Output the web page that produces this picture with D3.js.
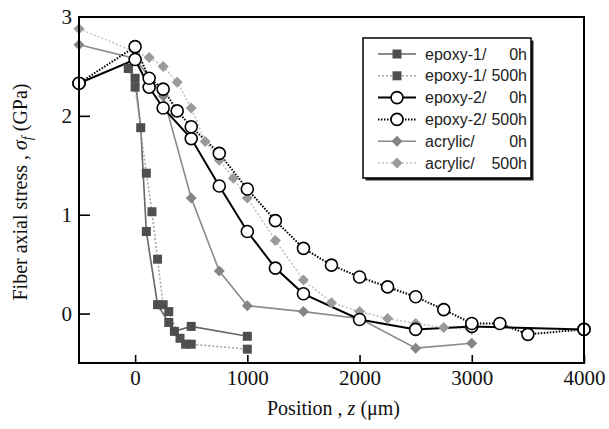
<!DOCTYPE html>
<html><head><meta charset="utf-8">
<script src="https://cdn.jsdelivr.net/npm/d3@7"></script>
<style>body{margin:0;background:#fff}</style>
</head><body>
<svg id="c" width="609" height="429"></svg>
<script>
const xTicks = [0, 1000, 2000, 3000, 4000];
const yTicks = [0, 1, 2, 3];

const e1_0h_z = [-60, 0, 50, 100, 200, 300, 350, 500, 1000];
const e1_0h_s = [2.48, 2.38, 1.88, 0.83, 0.09, -0.09, -0.18, -0.13, -0.23];
const e1_500h_z = [-60, 0, 100, 150, 200, 250, 300, 400, 450, 500, 1000];
const e1_500h_s = [2.48, 2.29, 1.42, 1.03, 0.55, 0.09, 0.02, -0.25, -0.31, -0.31, -0.36];

const e2_0h_z = [-500, 0, 125, 250, 500, 750, 1000, 1250, 1500, 2000, 2500, 3000, 4000];
const e2_0h_s = [2.33, 2.57, 2.29, 2.08, 1.77, 1.29, 0.83, 0.46, 0.20, -0.06, -0.16, -0.13, -0.16];
const e2_500h_z = [-500, 0, 125, 250, 375, 500, 750, 1000, 1250, 1500, 1750, 2000, 2250, 2500, 2750, 3000, 3250, 3500, 4000];
const e2_500h_s = [2.33, 2.70, 2.38, 2.27, 2.05, 1.89, 1.62, 1.26, 0.94, 0.66, 0.49, 0.37, 0.27, 0.17, 0.04, -0.10, -0.10, -0.21, -0.16];

const ac_0h_z = [-500, 0, 250, 500, 750, 1000, 1500, 2000, 2500, 3000];
const ac_0h_s = [2.72, 2.58, 2.20, 1.17, 0.43, 0.08, 0.02, -0.05, -0.35, -0.30];
const ac_500h_z = [-500, 0, 125, 250, 375, 500, 625, 750, 875, 1000, 1250, 1500, 1750, 2000, 2250, 2500, 2750, 3000];
const ac_500h_s = [2.88, 2.65, 2.59, 2.50, 2.34, 2.08, 1.74, 1.55, 1.37, 1.17, 0.74, 0.34, 0.11, 0.02, -0.05, -0.10, -0.14, -0.16];

const legendNames = ["epoxy-1/", "epoxy-1/", "epoxy-2/", "epoxy-2/", "acrylic/", "acrylic/"];
const legendTimes = ["0h", "500h", "0h", "500h", "0h", "500h"];

const L = 79, R = 584, T = 17, B = 363;
const x = d3.scaleLinear().domain([-500, 4000]).range([L, R]);
const y = d3.scaleLinear().domain([-0.5, 3]).range([B, T]);
const svg = d3.select("#c");

const series = [
  {row: 4, z: ac_0h_z, s: ac_0h_s, line: "#8a8a8a", dash: null, w: 1.6, m: "diamond", fill: "#858585", stroke: "#858585"},
  {row: 5, z: ac_500h_z, s: ac_500h_s, line: "#c4c4c4", dash: "2,2", w: 1.6, m: "diamond", fill: "#9a9a9a", stroke: "#9a9a9a"},
  {row: 0, z: e1_0h_z, s: e1_0h_s, line: "#666", dash: null, w: 1.6, m: "square", fill: "#4d4d4d", stroke: "#4d4d4d"},
  {row: 1, z: e1_500h_z, s: e1_500h_s, line: "#a8a8a8", dash: "2,2", w: 1.6, m: "square", fill: "#505050", stroke: "#505050"},
  {row: 2, z: e2_0h_z, s: e2_0h_s, line: "#000", dash: null, w: 2, m: "circle", fill: "#fff", stroke: "#000"},
  {row: 3, z: e2_500h_z, s: e2_500h_s, line: "#000", dash: "1.5,1.5", w: 2, m: "circle", fill: "#fff", stroke: "#000"}
];

function marker(g, type, cx, cy, sd) {
  if (type === "circle") {
    g.append("circle").attr("cx", cx).attr("cy", cy).attr("r", 6)
      .attr("fill", sd.fill).attr("stroke", sd.stroke).attr("stroke-width", 1.6);
  } else if (type === "square") {
    g.append("rect").attr("x", cx - 4.5).attr("y", cy - 4.5).attr("width", 9).attr("height", 9)
      .attr("fill", sd.fill);
  } else {
    const r = 5.5;
    g.append("path").attr("d", `M${cx},${cy - r}L${cx + r},${cy}L${cx},${cy + r}L${cx - r},${cy}Z`)
      .attr("fill", sd.fill);
  }
}

const plot = svg.append("g");
const lineGen = d3.line().x(d => x(d[0])).y(d => y(d[1]));
series.forEach(sd => {
  const pts = sd.z.map((z, i) => [z, sd.s[i]]);
  plot.append("path").attr("d", lineGen(pts)).attr("fill", "none")
    .attr("stroke", sd.line).attr("stroke-width", sd.w)
    .attr("stroke-dasharray", sd.dash);
});
series.forEach(sd => {
  sd.z.forEach((z, i) => marker(plot, sd.m, x(z), y(sd.s[i]), sd));
});

// axes
const xa = svg.append("g").attr("transform", `translate(0,${B})`)
  .call(d3.axisBottom(x).tickValues(xTicks).tickSizeInner(-8).tickSizeOuter(0).tickPadding(7).tickFormat(d3.format("d")));
const ya = svg.append("g").attr("transform", `translate(${L},0)`)
  .call(d3.axisLeft(y).tickValues(yTicks).tickSizeInner(-11).tickSizeOuter(0).tickPadding(7).tickFormat(d3.format("d")));
[xa, ya].forEach(a => {
  a.select(".domain").remove();
  a.selectAll("line").attr("stroke", "#000").attr("stroke-width", 1.6);
  a.selectAll("text").attr("font-family", "'Liberation Serif', serif").attr("font-size", 21).attr("fill", "#111");
});
ya.selectAll(".tick").filter(d => d === 3).select("line").remove();

svg.append("rect").attr("x", L).attr("y", T).attr("width", R - L).attr("height", B - T)
  .attr("fill", "none").attr("stroke", "#000").attr("stroke-width", 2);

// axis titles
const xt = svg.append("text").attr("x", (L + R) / 2 + 2).attr("y", 415).attr("text-anchor", "middle")
  .attr("font-family", "'Liberation Serif', serif").attr("font-size", 20).attr("fill", "#111");
xt.append("tspan").text("Position , ");
xt.append("tspan").attr("font-style", "italic").text("z");
xt.append("tspan").text(" (μm)");

const yt = svg.append("text").attr("transform", "translate(27,192) rotate(-90)").attr("text-anchor", "middle")
  .attr("font-family", "'Liberation Serif', serif").attr("font-size", 20).attr("fill", "#111");
yt.append("tspan").text("Fiber axial stress , ");
yt.append("tspan").attr("font-style", "italic").text("σ");
yt.append("tspan").attr("font-style", "italic").attr("font-size", 14).attr("dy", 5).text("f");
yt.append("tspan").attr("dy", -5).text(" (GPa)");

// legend
const lg = svg.append("g");
const lx = 363, ly = 38, lw = 168, lh = 140;
lg.append("rect").attr("x", lx + 2.5).attr("y", ly + 2.5).attr("width", lw).attr("height", lh).attr("fill", "#222");
lg.append("rect").attr("x", lx).attr("y", ly).attr("width", lw).attr("height", lh)
  .attr("fill", "#fff").attr("stroke", "#000").attr("stroke-width", 1.5);
series.forEach(sd => {
  const row = sd.row;
  const yy = 54 + row * 21.8;
  lg.append("line").attr("x1", 378).attr("x2", 416).attr("y1", yy).attr("y2", yy)
    .attr("stroke", sd.line).attr("stroke-width", sd.w).attr("stroke-dasharray", sd.dash);
  marker(lg, sd.m, 397, yy, sd);
  lg.append("text").attr("x", 425).attr("y", yy + 5.5).attr("font-family", "'Liberation Sans', Arial, sans-serif")
    .attr("font-size", 16).attr("fill", "#222").text(legendNames[row]);
  lg.append("text").attr("x", 527).attr("y", yy + 5.5).attr("text-anchor", "end")
    .attr("font-family", "'Liberation Sans', Arial, sans-serif")
    .attr("font-size", 16).attr("fill", "#222").text(legendTimes[row]);
});
</script>
</body></html>
